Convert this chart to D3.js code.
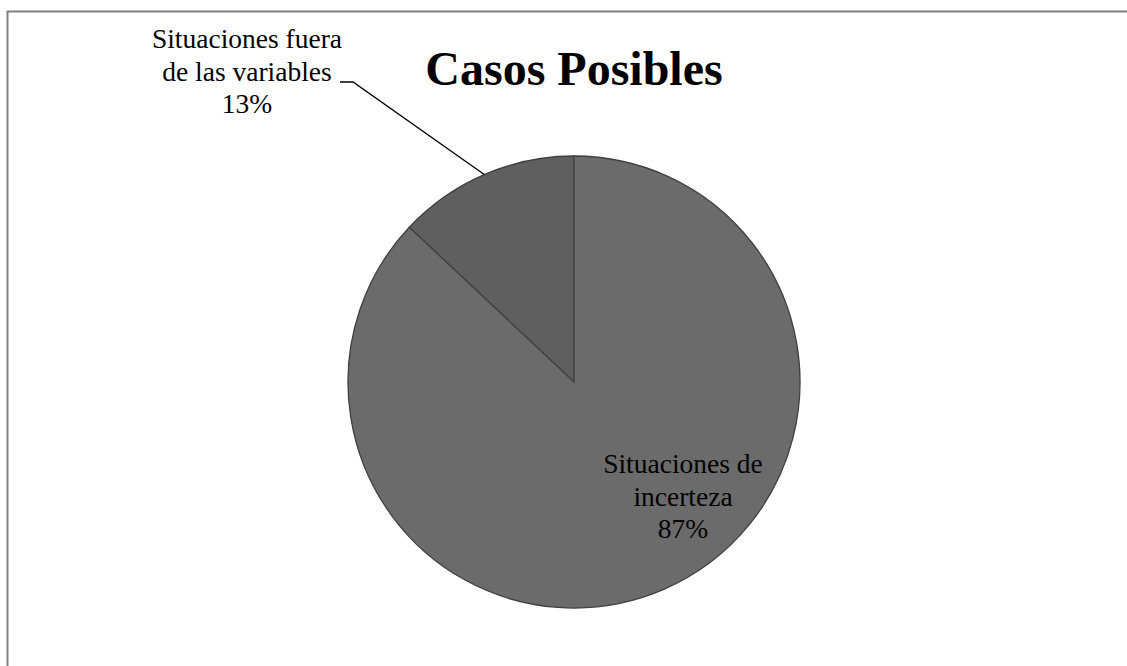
<!DOCTYPE html>
<html><head><meta charset="utf-8">
<script src="https://cdn.jsdelivr.net/npm/d3@7"></script>
<style>body{margin:0;background:#fff}svg{display:block}</style>
</head><body>
<script>
const categories = ["Situaciones fuera de las variables", "Situaciones de incerteza"];
const values = [13, 87];
const labelLines = [["Situaciones fuera", "de las variables", "13%"], ["Situaciones de", "incerteza", "87%"]];
const colors = ["#5f5f5f", "#6b6b6b"];
const title = "Casos Posibles";

const W = 1127, H = 666;
const FONT = "'Liberation Serif', 'Times New Roman', serif";
const svg = d3.select("body").append("svg").attr("width", W).attr("height", H);
svg.append("path").attr("d", `M7.5,${H}V11.5H${W}`).attr("fill", "none").attr("stroke", "#808080").attr("stroke-width", 2);

const cx = 574, cy = 382, r = 226;
const pie = d3.pie().sort(null).value(d => d).startAngle(-2 * Math.PI * values[0] / 100).endAngle(2 * Math.PI - 2 * Math.PI * values[0] / 100);
const arcs = pie(values);
const arc = d3.arc().innerRadius(0).outerRadius(r);
const g = svg.append("g").attr("transform", `translate(${cx},${cy})`);
g.selectAll("path").data(arcs).join("path").attr("d", arc)
  .attr("fill", (d, i) => colors[i]).attr("stroke", "#404040").attr("stroke-width", 1.3);

svg.append("text").attr("x", 574).attr("y", 85).attr("text-anchor", "middle")
  .attr("font-family", FONT).attr("font-weight", "bold").attr("font-size", 48).text(title);

const a0 = arcs[0];
const mid0 = (a0.startAngle + a0.endAngle) / 2;
const pEdge = [cx + r * Math.sin(mid0), cy - r * Math.cos(mid0)];
svg.append("polyline").attr("points", `340,82 353,82 ${pEdge[0]},${pEdge[1]}`)
  .attr("fill", "none").attr("stroke", "#000").attr("stroke-width", 1.3);

function lbl(lines, x, y0, lh) {
  svg.append("g").selectAll("text").data(lines).join("text")
    .attr("x", x).attr("y", (d, i) => y0 + i * lh)
    .attr("text-anchor", "middle").attr("font-family", FONT).attr("font-size", 27.5)
    .attr("fill", "#000").text(d => d);
}
lbl(labelLines[0], 247, 48, 32.5);
lbl(labelLines[1], 683, 473, 32.5);
</script>
</body></html>
